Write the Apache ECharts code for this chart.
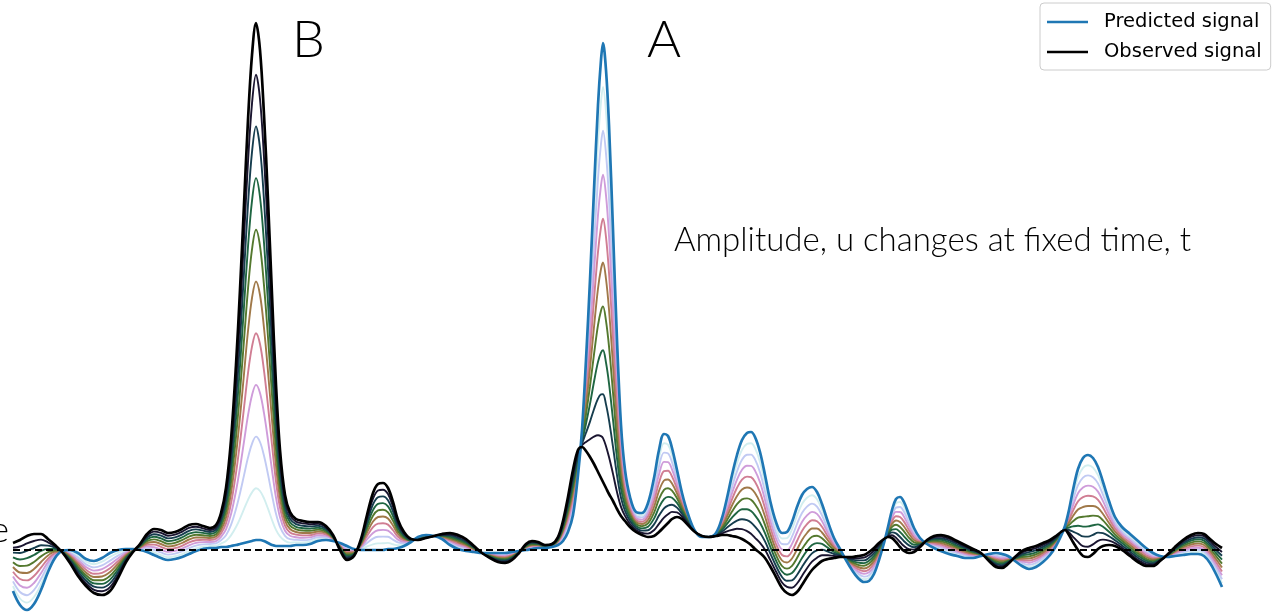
<!DOCTYPE html>
<html>
<head>
<meta charset="utf-8">
<title>Predicted vs observed signal</title>
<script src="https://cdn.jsdelivr.net/npm/echarts@6/dist/echarts.min.js"></script>
<style>
  html, body { margin: 0; padding: 0; background: #ffffff; }
  #chart { width: 1277px; height: 612px; }
</style>
</head>
<body>
<div id="chart"></div>
<script>
// Sample times shared by both signals
const time = [
  0, 7, 14, 21, 28, 35, 42, 49, 57, 65, 73, 81, 89, 97, 105, 113, 120, 127, 134, 141,
  148, 155, 162, 169, 176, 183, 190, 197, 203, 208, 213, 218, 223, 227, 231, 235, 239, 243, 247, 251,
  255, 259, 263, 267, 272, 277, 283, 290, 297, 305, 313, 320, 327, 334, 341, 348, 354, 360, 365, 370,
  375, 380, 385, 391, 398, 405, 413, 421, 429, 437, 445, 453, 461, 469, 477, 485, 492, 499, 506, 513,
  519, 525, 532, 539, 545, 550, 555, 560, 565, 569, 573, 577, 581, 585, 588, 590, 593, 596, 600, 604,
  608, 612, 617, 623, 629, 635, 641, 646, 651, 655, 659, 664, 669, 675, 682, 689, 696, 703, 709, 714,
  719, 724, 729, 734, 738, 742, 747, 752, 757, 763, 769, 774, 779, 784, 789, 794, 799, 804, 809, 815,
  821, 827, 833, 839, 845, 851, 856, 861, 866, 871, 875, 879, 883, 887, 891, 896, 901, 907, 914, 921,
  928, 936, 944, 952, 960, 968, 976, 983, 989, 995, 1002, 1009, 1016, 1023, 1030, 1037, 1043, 1048, 1052, 1056,
  1060, 1065, 1070, 1075, 1080, 1085, 1090, 1096, 1102, 1109, 1117, 1125, 1133, 1140, 1147, 1154, 1162, 1170, 1178, 1185,
  1191, 1197, 1203, 1209
];

// Model output (amplitude)
const predicted = [
  -0.41, -0.55, -0.60, -0.54, -0.40, -0.22, -0.08, -0.01, 0.00, -0.03, -0.09, -0.11, -0.08, -0.03, 0.00, 0.01, 0.01, 0.00, -0.02, -0.05,
  -0.08, -0.10, -0.09, -0.07, -0.04, -0.01, 0.01, 0.02, 0.02, 0.03, 0.03, 0.04, 0.05, 0.06, 0.07, 0.08, 0.09, 0.10, 0.10, 0.09,
  0.07, 0.05, 0.04, 0.04, 0.04, 0.04, 0.05, 0.05, 0.06, 0.09, 0.10, 0.09, 0.07, 0.04, 0.01, 0.00, 0.00, 0.00, 0.00, 0.00,
  0.01, 0.01, 0.02, 0.04, 0.08, 0.13, 0.15, 0.14, 0.11, 0.05, 0.01, -0.01, -0.02, -0.03, -0.03, -0.03, -0.03, -0.02, -0.01, 0.00,
  0.01, 0.02, 0.02, 0.03, 0.05, 0.09, 0.18, 0.35, 0.75, 1.20, 1.90, 2.70, 3.60, 4.45, 4.90, 5.07, 4.80, 4.25, 3.20, 2.10,
  1.25, 0.80, 0.53, 0.38, 0.37, 0.47, 0.72, 1.00, 1.16, 1.14, 1.02, 0.80, 0.57, 0.36, 0.19, 0.13, 0.13, 0.17, 0.32, 0.52,
  0.75, 0.95, 1.10, 1.17, 1.18, 1.13, 0.98, 0.75, 0.50, 0.28, 0.17, 0.18, 0.28, 0.43, 0.55, 0.61, 0.63, 0.58, 0.46, 0.28,
  0.12, 0.01, -0.10, -0.20, -0.28, -0.32, -0.31, -0.24, -0.10, 0.07, 0.23, 0.40, 0.51, 0.53, 0.48, 0.35, 0.22, 0.12, 0.06, 0.02,
  -0.01, -0.04, -0.06, -0.08, -0.08, -0.06, -0.04, -0.03, -0.04, -0.06, -0.11, -0.16, -0.19, -0.17, -0.12, -0.05, 0.04, 0.14, 0.24, 0.40,
  0.60, 0.81, 0.92, 0.95, 0.92, 0.83, 0.68, 0.49, 0.33, 0.23, 0.16, 0.09, 0.02, -0.03, -0.06, -0.07, -0.06, -0.05, -0.04, -0.04,
  -0.06, -0.13, -0.24, -0.37
];

// Recorded trace (amplitude)
const observed = [
  0.07, 0.10, 0.14, 0.16, 0.16, 0.11, 0.05, -0.02, -0.13, -0.26, -0.36, -0.43, -0.45, -0.41, -0.28, -0.12, -0.02, 0.06, 0.16, 0.21,
  0.20, 0.17, 0.18, 0.21, 0.25, 0.26, 0.24, 0.22, 0.25, 0.37, 0.62, 1.10, 1.85, 2.60, 3.45, 4.30, 4.95, 5.27, 5.00, 4.35,
  3.50, 2.55, 1.65, 1.00, 0.55, 0.38, 0.31, 0.29, 0.28, 0.28, 0.24, 0.15, 0.00, -0.10, -0.06, 0.11, 0.35, 0.57, 0.66, 0.67,
  0.62, 0.48, 0.30, 0.18, 0.11, 0.10, 0.12, 0.14, 0.16, 0.17, 0.15, 0.11, 0.04, -0.03, -0.08, -0.12, -0.13, -0.10, -0.03, 0.06,
  0.09, 0.08, 0.05, 0.06, 0.13, 0.29, 0.53, 0.80, 1.00, 1.03, 0.99, 0.93, 0.86, 0.78, 0.72, 0.68, 0.62, 0.56, 0.49, 0.41,
  0.34, 0.29, 0.23, 0.18, 0.15, 0.13, 0.14, 0.18, 0.23, 0.27, 0.31, 0.33, 0.31, 0.25, 0.18, 0.14, 0.13, 0.14, 0.15, 0.15,
  0.14, 0.13, 0.11, 0.08, 0.05, 0.01, -0.03, -0.08, -0.16, -0.27, -0.38, -0.43, -0.45, -0.42, -0.35, -0.27, -0.20, -0.15, -0.11, -0.09,
  -0.08, -0.07, -0.07, -0.07, -0.06, -0.05, -0.02, 0.02, 0.07, 0.11, 0.13, 0.12, 0.08, 0.03, -0.01, -0.03, -0.02, 0.03, 0.10, 0.14,
  0.15, 0.13, 0.09, 0.05, 0.01, -0.03, -0.11, -0.17, -0.18, -0.14, -0.07, -0.01, 0.02, 0.04, 0.07, 0.10, 0.14, 0.18, 0.20, 0.15,
  0.08, 0.00, -0.06, -0.07, -0.04, 0.01, 0.04, 0.05, 0.04, 0.00, -0.06, -0.12, -0.16, -0.16, -0.11, -0.05, 0.03, 0.10, 0.15, 0.17,
  0.16, 0.11, 0.06, 0.02
];

// Amplitude weights u for the in-between curves (0 = predicted, 1 = observed)
const blendSteps = [0.1, 0.2, 0.3, 0.4, 0.5, 0.6, 0.7, 0.8, 0.9];

const seriesNames = ['Predicted signal', 'Observed signal'];
const peakLabels = ['B', 'A'];
const captionText = 'Amplitude, u changes at fixed time, t';
const edgeText = 'e';

// Cubehelix colour map (gamma 1, start 0.5, rotations -1.5, hue 1)
function cubehelix(x) {
  const a = x * (1 - x) / 2;
  const phi = 2 * Math.PI * (0.5 / 3 - 1.5 * x);
  const c = Math.cos(phi), s = Math.sin(phi);
  const r = x + a * (-0.14861 * c + 1.78277 * s);
  const g = x + a * (-0.29227 * c - 0.90649 * s);
  const b = x + a * (1.97294 * c);
  const to255 = v => Math.round(Math.min(1, Math.max(0, v)) * 255);
  return 'rgb(' + to255(r) + ',' + to255(g) + ',' + to255(b) + ')';
}

const pairs = vals => time.map((t, i) => [t, vals[i]]);

const series = [];

blendSteps.forEach((u, k) => {
  series.push({
    name: 'u = ' + u.toFixed(1),
    type: 'line',
    data: time.map((t, i) => [t, (1 - u) * predicted[i] + u * observed[i]]),
    showSymbol: false,
    symbol: 'none',
    smooth: 0.35,
    lineStyle: { color: cubehelix(1 - u), width: 1.9 },
    z: 2 + k * 0.01,
    silent: true
  });
});

series.push({
  name: seriesNames[0],
  type: 'line',
  data: pairs(predicted),
  showSymbol: false,
  symbol: 'none',
  smooth: 0.35,
  itemStyle: { color: '#1f77b4' },
  lineStyle: { color: '#1f77b4', width: 2.7 },
  z: 3,
  silent: true
});

series.push({
  name: seriesNames[1],
  type: 'line',
  data: pairs(observed),
  showSymbol: false,
  symbol: 'none',
  smooth: 0.35,
  itemStyle: { color: '#000000' },
  lineStyle: { color: '#000000', width: 2.7 },
  z: 4,
  silent: true,
  markLine: {
    silent: true,
    symbol: ['none', 'none'],
    label: { show: false },
    lineStyle: { color: '#000000', width: 1.8, type: [7, 4] },
    data: [{ yAxis: 0 }],
    z: 10
  }
});

const chart = echarts.init(document.getElementById('chart'), null, { renderer: 'canvas' });

chart.setOption({
  animation: false,
  backgroundColor: '#ffffff',
  grid: { left: 13, right: 55, top: 0, bottom: 0, containLabel: false },
  xAxis: { type: 'value', min: 0, max: 1209, show: false },
  yAxis: { type: 'value', min: -0.62, max: 5.5, show: false },
  legend: {
    data: seriesNames,
    orient: 'vertical',
    left: 1040,
    top: 3,
    padding: [9, 9, 8, 7],
    icon: 'path://M0,0 H41 V2.6 H0 Z',
    itemWidth: 41,
    itemHeight: 20,
    itemGap: 10,
    backgroundColor: '#ffffff',
    borderColor: '#cccccc',
    borderWidth: 1,
    borderRadius: 4,
    textStyle: { fontFamily: 'DejaVu Sans', fontSize: 19.5, lineHeight: 20, color: '#000000', padding: [0, 0, 0, 11] },
    selectedMode: false
  },
  graphic: [
    {
      type: 'text', x: 292, y: 40, z: 20,
      style: { text: peakLabels[0], fontFamily: 'Lato', fontWeight: 300, fontSize: 52, fill: '#000000', textAlign: 'left', textVerticalAlign: 'middle', verticalAlign: 'middle' }
    },
    {
      type: 'text', x: 647, y: 40, z: 20,
      style: { text: peakLabels[1], fontFamily: 'Lato', fontWeight: 300, fontSize: 52, fill: '#000000', textAlign: 'left', textVerticalAlign: 'middle', verticalAlign: 'middle' }
    },
    {
      type: 'text', x: 674, y: 240, z: 20,
      style: { text: captionText, fontFamily: 'Lato', fontWeight: 300, fontSize: 33, fill: '#000000', textAlign: 'left', textVerticalAlign: 'middle', verticalAlign: 'middle' }
    },
    {
      type: 'text', x: 9, y: 530, z: 20,
      style: { text: edgeText, fontFamily: 'Lato', fontWeight: 300, fontSize: 36, fill: '#000000', textAlign: 'right', textVerticalAlign: 'middle', verticalAlign: 'middle' }
    }
  ],
  series: series
});
</script>
</body>
</html>
